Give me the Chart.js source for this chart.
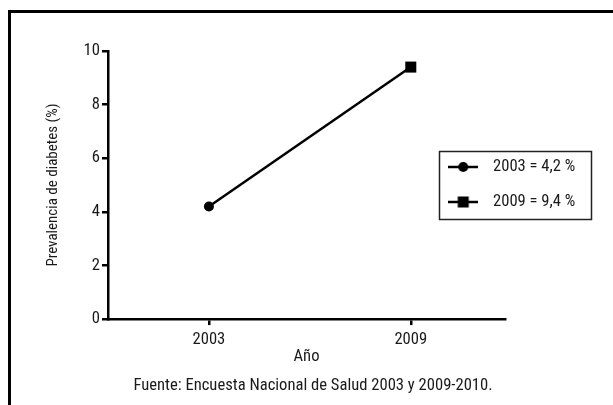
<!DOCTYPE html>
<html>
<head>
<meta charset="utf-8">
<script src="https://cdn.jsdelivr.net/npm/chart.js@4"></script>
<style>
  html, body { margin: 0; padding: 0; background: #fff; overflow: hidden; width: 613px; height: 405px; }
  #frame { position: absolute; left: 8px; top: 10px; width: 700px; height: 500px; border-left: 3px solid #000; border-top: 3px solid #000; box-sizing: border-box; }
  #c { position: absolute; left: 0; top: 0; }
</style>
</head>
<body>
<div id="frame"></div>
<canvas id="c" width="613" height="405"></canvas>
<script>
// ---- data ----
const years = [2003, 2009];
const prevalence = [4.2, 9.4];
const xTicks = [2003, 2009];
const yTicks = [0, 2, 4, 6, 8, 10];
const legendLabels = ['2003 = 4,2 %', '2009 = 9,4 %'];
const pointStyles = ['circle', 'rect'];
const yTitle = 'Prevalencia de diabetes (%)';
const xTitle = 'Año';
const sourceNote = 'Fuente: Encuesta Nacional de Salud 2003 y 2009-2010.';

const FAMILY = "Roboto, 'Liberation Sans', sans-serif";
const STRETCH = 'condensed';   // passed through Chart.js font weight slot -> "condensed 16px Roboto"
const TXT = '#1a1a1a';
const FS = 16.6;
function f(size) { return { family: FAMILY, size: size, weight: STRETCH }; }

function legendIcon(style) {
  const cv = document.createElement('canvas');
  cv.width = 30; cv.height = 14;
  const g = cv.getContext('2d');
  g.strokeStyle = '#000'; g.lineWidth = 2.5;
  g.beginPath(); g.moveTo(0, 7); g.lineTo(30, 7); g.stroke();
  g.fillStyle = '#000';
  if (style === 'circle') { g.beginPath(); g.arc(15, 7, 5, 0, Math.PI * 2); g.fill(); }
  else { g.fillRect(9.5, 1.5, 11, 11); }
  return cv;
}
const icons = pointStyles.map(legendIcon);

const placer = {
  id: 'placer',
  beforeDraw(chart) {
    const lg = chart.legend;
    if (lg) {
      const w = lg.width, h = lg.height;
      lg.left = 423.3; lg.top = 140.3; lg.right = lg.left + w; lg.bottom = lg.top + h;
    }
    const tb = chart.titleBlock;
    if (tb) { tb.left = 13; tb.right = 613; tb.width = 600; }
  },
  afterDraw(chart) {
    const ctx = chart.ctx;
    ctx.save();
    ctx.strokeStyle = '#222'; ctx.lineWidth = 1.5;
    ctx.strokeRect(439.5, 151.5, 152, 68);
    ctx.restore();
  }
};

new Chart(document.getElementById('c'), {
  type: 'line',
  data: {
    datasets: [{
      data: years.map((y, i) => ({ x: y, y: prevalence[i] })),
      borderColor: '#000',
      backgroundColor: '#000',
      borderWidth: 2.5,
      pointStyle: pointStyles,
      pointRadius: [5, 7.8],
      pointBorderWidth: 0,
      tension: 0
    }]
  },
  options: {
    responsive: false,
    animation: false,
    devicePixelRatio: 1,
    layout: { padding: { left: 40, right: 108, top: 51, bottom: 0 } },
    plugins: {
      tooltip: { enabled: false },
      legend: {
        display: true,
        position: 'chartArea',
        align: 'start',
        labels: {
          font: f(FS),
          color: TXT,
          padding: 18.4,
          usePointStyle: true,
          pointStyleWidth: 43,
          generateLabels: () => legendLabels.map((t, i) => ({
            text: t, pointStyle: icons[i], fillStyle: '#000', strokeStyle: '#000', lineWidth: 0, hidden: false, datasetIndex: 0, fontColor: TXT
          }))
        }
      },
      title: {
        display: true,
        position: 'bottom',
        text: sourceNote,
        color: TXT,
        font: f(FS),
        padding: { top: 7, bottom: 9 }
      }
    },
    scales: {
      x: {
        type: 'linear',
        min: 2000,
        max: 2011.8,
        afterBuildTicks: (s) => { s.ticks = xTicks.map(v => ({ value: v })); },
        afterFit: (s) => { s.height = 50; },
        grid: { display: true, drawOnChartArea: false, drawTicks: true, tickLength: 6, color: '#000', lineWidth: 2.5 },
        border: { display: true, color: '#000', width: 2.5 },
        ticks: { color: TXT, font: f(FS), padding: 5, callback: (v) => String(v) },
        title: { display: true, text: xTitle, color: TXT, font: f(FS), padding: { top: 0, bottom: 2 } }
      },
      y: {
        min: 0,
        max: 10,
        afterBuildTicks: (s) => { s.ticks = yTicks.map(v => ({ value: v })); },
        afterFit: (s) => { s.width = 68; },
        grid: { display: true, drawOnChartArea: false, drawTicks: true, tickLength: 6, color: '#000', lineWidth: 2.5 },
        border: { display: true, color: '#000', width: 2.5 },
        ticks: { color: TXT, font: f(FS), padding: 2 },
        title: { display: true, text: yTitle, color: TXT, font: f(15), padding: 4 }
      }
    }
  },
  plugins: [placer]
});
</script>
</body>
</html>
